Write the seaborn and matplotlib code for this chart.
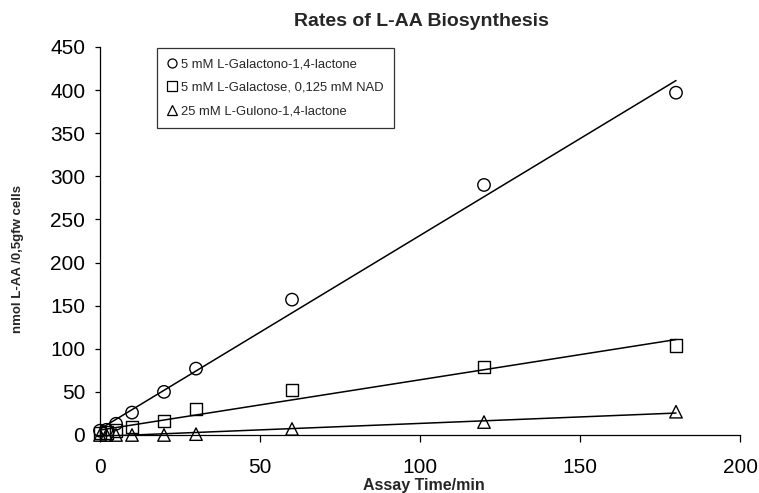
import matplotlib
matplotlib.use("Agg")
import matplotlib.pyplot as plt
from matplotlib.lines import Line2D
import seaborn as sns
import pandas as pd

# Assay times (min) and L-AA produced (nmol / 0,5 gfw cells)
time_min = [0, 2, 5, 10, 20, 30, 60, 120, 180]
galactono = [5, 6, 13, 26, 50, 77, 157, 290, 397]
galactose = [2, 3, 5, 9.5, 16, 30, 52, 79, 104]
gulono = [0, 0, 0, 0, 0, 1, 7, 15, 27]

labels = ["5 mM L-Galactono-1,4-lactone",
          "5 mM L-Galactose, 0,125 mM NAD",
          "25 mM L-Gulono-1,4-lactone"]
markers = ["o", "s", "^"]

data = pd.DataFrame({"time": time_min, "gal_lac": galactono,
                     "gal": galactose, "gul": gulono})

sns.set_style("ticks")
plt.rcParams["font.family"] = ["Liberation Sans", "DejaVu Sans"]

fig = plt.figure(figsize=(7.59, 4.93), dpi=100)
ax = fig.add_axes([100 / 759, 58 / 493, 640 / 759, 388 / 493])

for col, mk in zip(["gal_lac", "gal", "gul"], markers):
    sns.regplot(data=data, x="time", y=col, ax=ax, ci=None, truncate=True,
                marker=mk, color="black",
                scatter_kws=dict(facecolor="none", edgecolor="black", s=80,
                                 linewidths=1.0, alpha=1, clip_on=False, zorder=3),
                line_kws=dict(color="black", lw=1.1))

ax.set_xlim(0, 200)
ax.set_ylim(0, 450)
ax.set_xticks(range(0, 201, 50))
ax.set_yticks(range(0, 451, 50))
sns.despine(ax=ax)
for s in ["left", "bottom"]:
    ax.spines[s].set_linewidth(0.9)
    ax.spines[s].set_color("black")
ax.tick_params(axis="x", direction="out", length=5, width=0.9, pad=11.5,
               labelsize=15, colors="black")
ax.tick_params(axis="y", direction="out", length=3.6, width=0.9, pad=7,
               labelsize=15, colors="black")

ax.set_xlabel("Assay Time/min", fontsize=11.5, fontweight="bold", va="center")
ax.set_ylabel("nmol L-AA /0,5gfw cells", fontsize=9.5, fontweight="bold", va="center")
ax.xaxis.set_label_coords(0.506, -0.129)
ax.yaxis.set_label_coords(-0.128, 0.454)
ax.text(0.503, 1.067, "Rates of L-AA Biosynthesis", transform=ax.transAxes,
        ha="center", va="center", fontsize=14, fontweight="bold")

handles = [Line2D([], [], linestyle="none", marker=mk, markersize=6.5,
                  markerfacecolor="none", markeredgecolor="black",
                  markeredgewidth=0.9) for mk in markers]
leg = ax.legend(handles, labels, loc="upper left", bbox_to_anchor=(0.089, 0.997),
                borderaxespad=0, fontsize=9.4, frameon=True, fancybox=False,
                handlelength=0.7, handletextpad=0.35, labelspacing=0.85,
                borderpad=0.8)
leg.get_frame().set_edgecolor("black")
leg.get_frame().set_linewidth(0.9)

fig.savefig("out.png", dpi=100)
